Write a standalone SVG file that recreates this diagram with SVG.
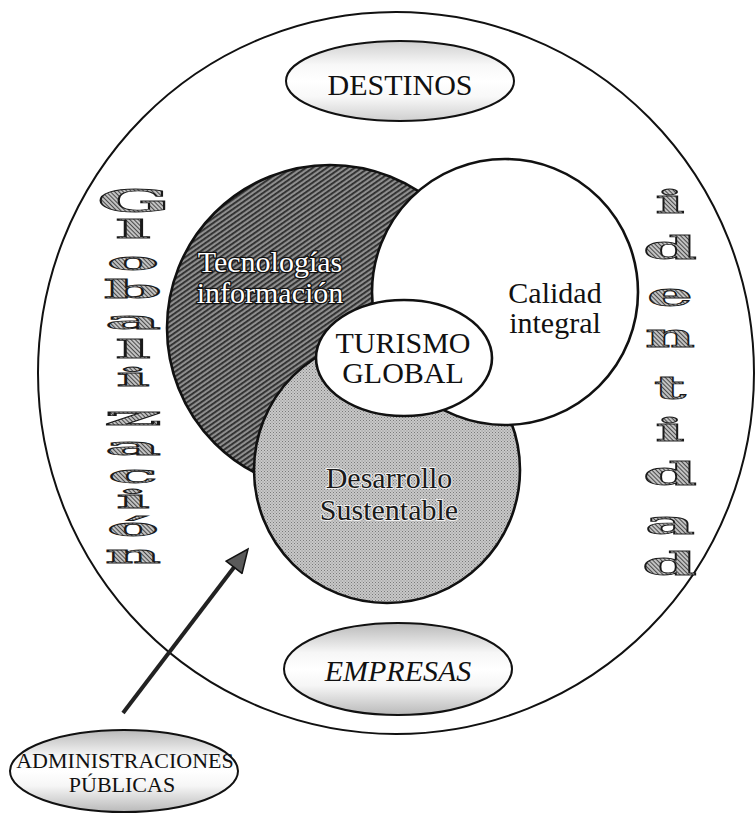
<svg xmlns="http://www.w3.org/2000/svg" width="755" height="813" viewBox="0 0 755 813">
  <defs>
    <!-- dense diagonal hatching for the dark circle -->
    <pattern id="hatchDark" patternUnits="userSpaceOnUse" width="4" height="4" patternTransform="rotate(-35)">
      <rect width="4" height="4" fill="#8e8e8e"/>
      <rect width="4" height="1.8" fill="#2c2c2c"/>
    </pattern>
    <!-- fine stipple for the light grey circle -->
    <pattern id="stipple" patternUnits="userSpaceOnUse" width="3" height="3">
      <rect width="3" height="3" fill="#c8c8c8"/>
      <rect x="0" y="0" width="1" height="1" fill="#7a7a7a"/>
      <rect x="1.5" y="1.5" width="1" height="1" fill="#8a8a8a"/>
    </pattern>
    <!-- hatching inside the big side letters -->
    <pattern id="letterHatch" patternUnits="userSpaceOnUse" width="3" height="3" patternTransform="rotate(45)">
      <rect width="3" height="3" fill="#c2c2c2"/>
      <rect width="3" height="1" fill="#4a4a4a"/>
    </pattern>
    <!-- grey top and bottom, white middle, for the small ovals -->
    <linearGradient id="ovalShade" x1="0" y1="0" x2="0" y2="1">
      <stop offset="0" stop-color="#b9b9b9"/>
      <stop offset="0.32" stop-color="#f6f6f6"/>
      <stop offset="0.5" stop-color="#ffffff"/>
      <stop offset="0.68" stop-color="#f6f6f6"/>
      <stop offset="1" stop-color="#b9b9b9"/>
    </linearGradient>
    <linearGradient id="ovalShadeLight" x1="0" y1="0" x2="0" y2="1">
      <stop offset="0" stop-color="#cfcfcf"/>
      <stop offset="0.3" stop-color="#f8f8f8"/>
      <stop offset="0.5" stop-color="#ffffff"/>
      <stop offset="0.7" stop-color="#f8f8f8"/>
      <stop offset="1" stop-color="#cfcfcf"/>
    </linearGradient>
    <marker id="arrowHead" markerUnits="userSpaceOnUse" viewBox="0 0 27 22" markerWidth="27" markerHeight="22" refX="7" refY="11" orient="auto">
      <path d="M2,1 L25,11 L2,21 Z" fill="#5a5a5a" stroke="#111" stroke-width="1.5" stroke-linejoin="miter"/>
    </marker>
    <style>
      .ring { fill: none; stroke: #111; stroke-width: 2; }
      .shape { stroke: #111; stroke-width: 2.6; }
      .oval { stroke: #111; stroke-width: 2; }
      .lbl { font-family: "Liberation Serif", "Times New Roman", serif; font-size: 30px; text-anchor: middle; fill: #111; }
      .small { font-size: 22px; }
      .ital { font-style: italic; }
      .embossLight { fill: #ffffff; stroke: #111; stroke-width: 2.6; paint-order: stroke; }
      .embossDark { fill: #1a1a1a; stroke: #f0f0f0; stroke-width: 2; paint-order: stroke; }
      .letter { font-family: "DejaVu Serif", "Liberation Serif", serif; font-weight: bold; fill: url(#letterHatch); stroke: #1a1a1a; stroke-width: 0.8; }
      .glob { font-size: 25px; }
      .cap { font-size: 31px; }
      .iden { font-size: 31px; }
    </style>
  </defs>

  <rect width="755" height="813" fill="#ffffff"/>

  <!-- outer frame -->
  <g id="frame">
    <ellipse class="ring" cx="396" cy="373" rx="358" ry="361"/>
  </g>

  <g id="destinos">
    <ellipse class="oval" cx="400" cy="81" rx="114" ry="40" fill="url(#ovalShadeLight)"/>
    <text class="lbl" x="400" y="95">DESTINOS</text>
  </g>

  <g id="empresas">
    <ellipse class="oval" cx="398" cy="669" rx="114" ry="46" fill="url(#ovalShade)"/>
    <text class="lbl ital" x="398" y="681">EMPRESAS</text>
  </g>

  <g id="tecnologias">
    <circle class="shape" cx="330" cy="328" r="163" fill="url(#hatchDark)"/>
    <text class="lbl embossLight" x="270" y="272">Tecnologías</text>
    <text class="lbl embossLight" x="270" y="303">información</text>
  </g>

  <g id="desarrollo">
    <circle class="shape" cx="387" cy="470" r="133" fill="url(#stipple)"/>
    <text class="lbl embossDark" x="389" y="488">Desarrollo</text>
    <text class="lbl embossDark" x="389" y="520">Sustentable</text>
  </g>

  <g id="calidad">
    <circle class="shape" cx="505" cy="292" r="133" fill="#ffffff"/>
    <text class="lbl" x="555" y="303">Calidad</text>
    <text class="lbl" x="555" y="333">integral</text>
  </g>

  <g id="turismo">
    <ellipse class="shape" cx="404" cy="358" rx="88" ry="58" fill="#ffffff"/>
    <text class="lbl" x="403" y="353">TURISMO</text>
    <text class="lbl" x="403" y="383">GLOBAL</text>
  </g>

  <g id="administraciones">
    <ellipse class="oval" cx="124" cy="771" rx="114" ry="41" fill="url(#ovalShade)"/>
    <text class="lbl small" x="125" y="768">ADMINISTRACIONES</text>
    <text class="lbl small" x="122" y="792">PÚBLICAS</text>
  </g>

  <!-- vertical word on the left -->
  <g id="globalizacion" class="letter glob">
    <text class="cap" x="97" y="212" textLength="74" lengthAdjust="spacingAndGlyphs">G</text>
    <text x="115" y="238" textLength="36" lengthAdjust="spacingAndGlyphs">l</text>
    <text x="107" y="270" textLength="52" lengthAdjust="spacingAndGlyphs">o</text>
    <text x="104" y="298" textLength="58" lengthAdjust="spacingAndGlyphs">b</text>
    <text x="105" y="329" textLength="56" lengthAdjust="spacingAndGlyphs">a</text>
    <text x="115" y="358" textLength="36" lengthAdjust="spacingAndGlyphs">l</text>
    <text x="116" y="386" textLength="34" lengthAdjust="spacingAndGlyphs">i</text>
    <text x="104" y="425" textLength="58" lengthAdjust="spacingAndGlyphs">z</text>
    <text x="105" y="455" textLength="56" lengthAdjust="spacingAndGlyphs">a</text>
    <text x="108" y="483" textLength="50" lengthAdjust="spacingAndGlyphs">c</text>
    <text x="116" y="508" textLength="34" lengthAdjust="spacingAndGlyphs">i</text>
    <text x="107" y="536" textLength="52" lengthAdjust="spacingAndGlyphs">ó</text>
    <text x="105" y="563" textLength="56" lengthAdjust="spacingAndGlyphs">n</text>
  </g>

  <!-- vertical word on the right -->
  <g id="identidad" class="letter iden">
    <text x="655" y="213" textLength="30" lengthAdjust="spacingAndGlyphs">i</text>
    <text x="643" y="259" textLength="54" lengthAdjust="spacingAndGlyphs">d</text>
    <text x="647" y="306" textLength="46" lengthAdjust="spacingAndGlyphs">e</text>
    <text x="645" y="347" textLength="50" lengthAdjust="spacingAndGlyphs">n</text>
    <text x="654" y="399" textLength="32" lengthAdjust="spacingAndGlyphs">t</text>
    <text x="655" y="441" textLength="30" lengthAdjust="spacingAndGlyphs">i</text>
    <text x="643" y="485" textLength="54" lengthAdjust="spacingAndGlyphs">d</text>
    <text x="645" y="534" textLength="50" lengthAdjust="spacingAndGlyphs">a</text>
    <text x="642" y="575" textLength="55" lengthAdjust="spacingAndGlyphs">d</text>
  </g>

  <g id="connectors">
    <line x1="123" y1="713" x2="237.1" y2="563.3" stroke="#222" stroke-width="4" marker-end="url(#arrowHead)"/>
  </g>
</svg>
